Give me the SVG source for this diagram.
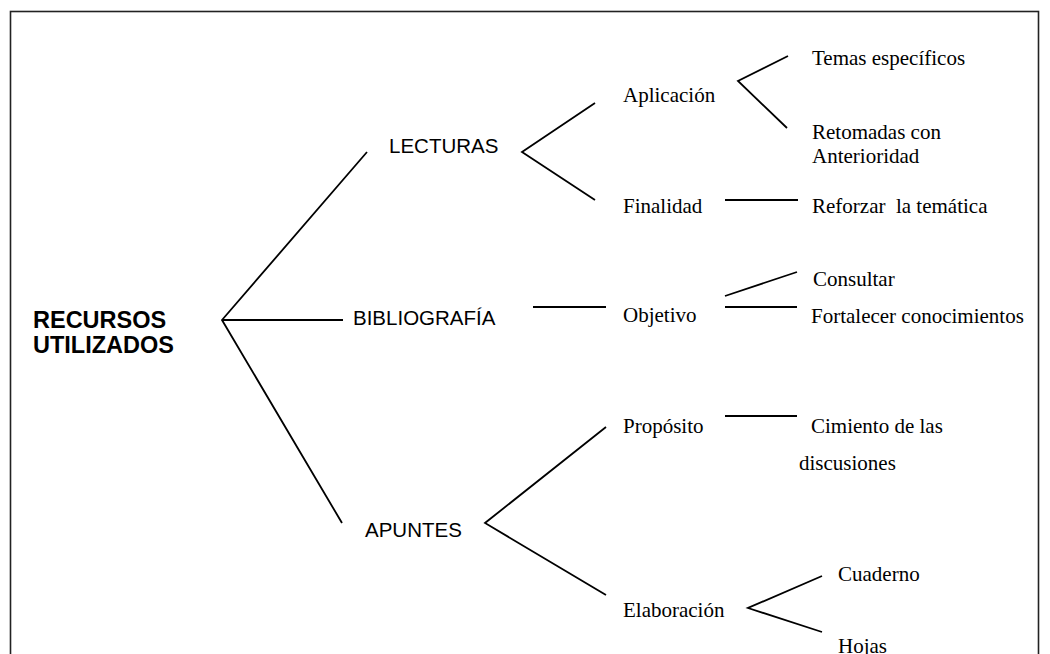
<svg xmlns="http://www.w3.org/2000/svg" width="1050" height="654" viewBox="0 0 1050 654">
<style>
.root{font-family:"Liberation Sans",Arial,sans-serif;font-weight:bold;font-size:23.5px;fill:#000}
.l1{font-family:"Liberation Sans",Arial,sans-serif;font-size:20.5px;fill:#000}
.l2{font-family:"Liberation Serif","Times New Roman",serif;font-size:21px;fill:#000;white-space:pre}
.c{stroke:#000;stroke-width:1.8;fill:none;stroke-linecap:butt;stroke-linejoin:miter}
</style>
<rect x="0" y="0" width="1050" height="654" fill="#fff"/>
<rect x="10.5" y="11.5" width="1028" height="660" fill="none" stroke="#222" stroke-width="1.6"/>
<g id="connectors">
<polyline class="c" points="367,152 222,320 342,523"/>
<line class="c" x1="222" y1="320" x2="343" y2="320"/>
<polyline class="c" points="595,103 522,152 595,200"/>
<polyline class="c" points="788,56 738,81 787,128"/>
<line class="c" x1="725" y1="200" x2="798" y2="200"/>
<line class="c" x1="533" y1="307" x2="606" y2="307"/>
<line class="c" x1="725" y1="296" x2="797" y2="272"/>
<line class="c" x1="725" y1="307" x2="797" y2="307"/>
<polyline class="c" points="606,427 485,523 606,595"/>
<line class="c" x1="725" y1="416" x2="797" y2="416"/>
<polyline class="c" points="822,576 748,608 822,632"/>
</g>
<g id="n-recursos"><text class="root" x="33" y="328">RECURSOS</text><text class="root" x="33" y="353">UTILIZADOS</text></g>
<g id="n-lecturas"><text class="l1" x="389" y="153">LECTURAS</text></g>
<g id="n-bibliografia"><text class="l1" x="353" y="325">BIBLIOGRAFÍA</text></g>
<g id="n-apuntes"><text class="l1" x="365" y="537">APUNTES</text></g>
<g id="n-aplicacion"><text class="l2" x="623" y="102">Aplicación</text></g>
<g id="n-finalidad"><text class="l2" x="623" y="213">Finalidad</text></g>
<g id="n-objetivo"><text class="l2" x="623" y="322">Objetivo</text></g>
<g id="n-proposito"><text class="l2" x="623" y="433">Propósito</text></g>
<g id="n-elaboracion"><text class="l2" x="623" y="617">Elaboración</text></g>
<g id="n-temas"><text class="l2" x="812" y="65">Temas específicos</text></g>
<g id="n-retomadas"><text class="l2" x="812" y="139">Retomadas con</text><text class="l2" x="812" y="163">Anterioridad</text></g>
<g id="n-reforzar"><text class="l2" x="812" y="213">Reforzar  la temática</text></g>
<g id="n-consultar"><text class="l2" x="813" y="286">Consultar</text></g>
<g id="n-fortalecer"><text class="l2" x="811" y="323">Fortalecer conocimientos</text></g>
<g id="n-cimiento"><text class="l2" x="811" y="433">Cimiento de las</text><text class="l2" x="799" y="470">discusiones</text></g>
<g id="n-cuaderno"><text class="l2" x="838" y="581">Cuaderno</text></g>
<g id="n-hojas"><text class="l2" x="838" y="653">Hojas</text></g>
</svg>
